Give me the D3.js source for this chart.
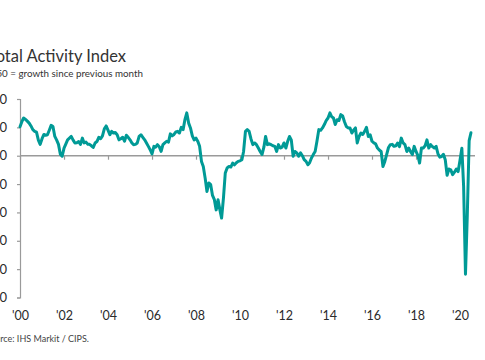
<!DOCTYPE html>
<html>
<head>
<meta charset="utf-8">
<script src="https://cdn.jsdelivr.net/npm/d3@7"></script>
<style>
  html, body { margin: 0; padding: 0; background: #fff; }
  svg { display: block; font-family: Lato, "Open Sans", sans-serif; }
</style>
</head>
<body>
<svg id="chart" width="485" height="360"></svg>
<script>
// UK construction PMI – Total Activity Index, monthly, Jan 2000 – Jul 2020
const startYear = 2000;
const values2000s = [
  60.2, 62.0, 63.3, 62.8, 62.2, 61.5, 60.5, 59.2, 58.6, 58.3, 55.5, 54.0,
  56.0, 57.5, 57.2, 57.4, 59.0, 60.7, 60.3, 56.8, 55.5, 54.0, 50.5, 49.8,
  52.7, 54.2, 55.6, 56.2, 56.8, 55.5, 54.5, 54.6, 55.0, 54.0, 56.2, 54.5,
  54.8, 54.0, 54.0, 53.5, 52.9, 54.5, 55.0, 56.5, 56.0, 57.0, 59.5, 60.5,
  59.0, 57.4, 58.6, 58.0, 58.2, 57.4, 55.6, 56.0, 56.5, 55.1, 57.2, 56.5,
  55.6, 54.5, 53.9, 54.0, 54.5, 56.8, 57.4, 56.5, 55.6, 54.5, 53.3, 52.1,
  50.6, 53.3, 53.0, 53.9, 53.2, 51.5, 53.9, 54.5, 55.1, 54.8, 57.7, 57.0,
  57.5, 58.4, 58.6, 58.0, 60.0, 59.2, 62.7, 65.1, 61.5, 59.8, 57.0, 55.6,
  56.2, 55.0, 53.3, 48.0, 46.2, 42.1, 37.4, 40.4, 39.8, 36.0, 34.5, 30.9,
  34.5, 30.9, 28.0, 35.1, 43.9, 45.7, 46.2, 46.0, 47.4, 46.8, 47.5, 48.0
];
const values2010s = [
  48.2, 48.6, 51.5, 58.6, 59.2, 58.6, 56.0, 53.9, 54.5, 53.9, 52.7, 51.5,
  50.4, 53.0, 56.8, 53.9, 54.2, 53.9, 53.5, 53.3, 51.5, 53.9, 52.7, 53.0,
  54.5, 52.7, 55.0, 56.8, 55.6, 49.8, 51.5, 51.0, 49.8, 51.0, 50.0, 48.6,
  48.0, 46.8, 47.5, 49.2, 50.4, 51.5, 55.1, 59.2, 59.0, 59.8, 61.0, 62.4,
  63.3, 65.1, 63.8, 63.3, 61.0, 62.7, 62.4, 64.5, 64.0, 62.0, 60.3, 59.8,
  59.8, 58.0, 59.0, 59.8, 54.5, 56.8, 58.0, 57.5, 58.6, 60.0, 56.8, 57.4,
  55.1, 54.5, 54.2, 52.7, 52.0, 51.5, 46.2, 48.0, 50.5, 52.9, 53.9, 54.0,
  53.3, 53.5, 54.5, 53.2, 56.2, 54.5, 53.9, 51.5, 52.7, 51.5, 50.4, 53.3,
  51.5, 50.0, 47.4, 52.7, 52.7, 53.5, 55.6, 52.7, 53.9, 53.2, 52.7, 53.3,
  50.6, 49.5, 49.7, 50.5, 48.6, 43.1, 45.3, 45.0, 43.3, 44.2, 45.3, 44.4
];
const values2020 = [48.4, 52.6, 39.3, 8.2, 28.9, 55.3, 58.1];

const yTicks = [0, 10, 20, 30, 40, 50, 60, 70];
const xTickYears = [2000, 2002, 2004, 2006, 2008, 2010, 2012, 2014, 2016, 2018, 2020];
const baseline = 50;

const titleText = "Total Activity Index";
const subtitleText = "sa, >50 = growth since previous month";
const sourceText = "Source: IHS Markit / CIPS.";

const allValues = values2000s.concat(values2010s, values2020);
const data = allValues.map((v, i) => ({ date: new Date(startYear, i, 1), value: v }));

const svg = d3.select("#chart");
const teal = "#009a96";
const axisGray = "#9a9a9a";
const textColor = "#2b2b2b";
const fontFam = "Lato, 'Open Sans', sans-serif";

const x = d3.scaleTime()
  .domain([new Date(2000, 0, 1), new Date(2020, 0, 1)])
  .range([20, 460]);
const y = d3.scaleLinear().domain([0, 70]).range([297.5, 99]);

// Title & subtitle (cropped at the left like the reference)
svg.append("text")
  .attr("x", 126).attr("y", 62)
  .attr("text-anchor", "end")
  .attr("fill", "#333")
  .attr("font-size", 16.5)
  .text(titleText);
svg.append("text")
  .attr("x", 143).attr("y", 77)
  .attr("text-anchor", "end")
  .attr("fill", "#333")
  .attr("font-size", 9.8)
  .text(subtitleText);

// Y axis
const yAxis = d3.axisLeft(y).tickValues(yTicks).tickSize(3).tickPadding(10).tickFormat(d3.format("d"));
const gy = svg.append("g").attr("transform", "translate(20,0)").call(yAxis);
gy.select(".domain").attr("stroke", axisGray).attr("stroke-width", 1.2);
gy.selectAll(".tick line").attr("stroke", axisGray).attr("stroke-width", 1.2);
gy.selectAll(".tick text").attr("fill", textColor).attr("font-size", 13).attr("font-family", fontFam);

// Baseline at 50 with x ticks
const xAxis = d3.axisBottom(x)
  .tickValues(xTickYears.map(yy => new Date(yy, 0, 1)))
  .tickSize(4).tickFormat(() => "");
const gx = svg.append("g").attr("transform", `translate(0,${y(baseline)})`).call(xAxis);
gx.select(".domain").remove();
gx.selectAll(".tick line").attr("stroke", axisGray).attr("stroke-width", 1.2);
svg.append("line")
  .attr("x1", x(new Date(2000, 0, 1))).attr("x2", 475)
  .attr("y1", y(baseline)).attr("y2", y(baseline))
  .attr("stroke", axisGray).attr("stroke-width", 1.5);

// X labels at bottom
const xLab = d3.axisBottom(x)
  .tickValues(xTickYears.map(yy => new Date(yy, 0, 1)))
  .tickSize(0).tickPadding(0)
  .tickFormat(d => "'" + d3.timeFormat("%y")(d));
const gl = svg.append("g").attr("transform", "translate(0,311)").call(xLab);
gl.select(".domain").remove();
gl.selectAll(".tick text").attr("fill", textColor).attr("font-size", 12.5).attr("font-family", fontFam);

// Line
const line = d3.line().x(d => x(d.date)).y(d => y(d.value)).curve(d3.curveLinear);
svg.append("path").datum(data)
  .attr("d", line)
  .attr("fill", "none")
  .attr("stroke", teal)
  .attr("stroke-width", 3)
  .attr("stroke-linejoin", "round")
  .attr("stroke-linecap", "round");

// Source
svg.append("text")
  .attr("x", 89).attr("y", 342)
  .attr("text-anchor", "end")
  .attr("fill", "#444")
  .attr("font-size", 9)
  .text(sourceText);
</script>
</body>
</html>
